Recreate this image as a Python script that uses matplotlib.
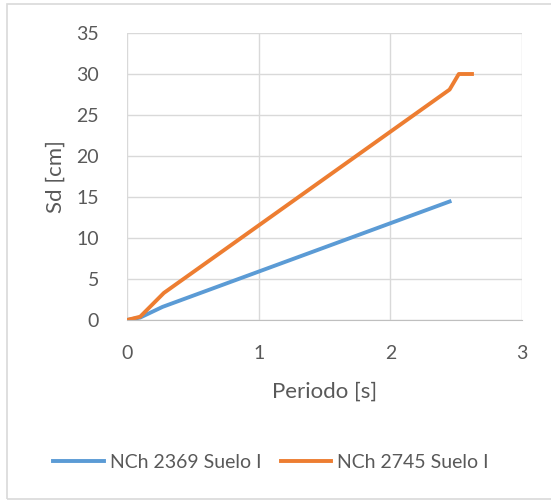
import matplotlib.pyplot as plt
from matplotlib.patches import Rectangle

# data
t_2369 = [0.0, 0.1, 0.27, 2.45]
sd_2369 = [0.0, 0.3, 1.6, 14.45]
t_2745 = [0.0, 0.1, 0.28, 2.45, 2.52, 2.62]
sd_2745 = [0.0, 0.4, 3.3, 28.1, 30.0, 30.0]

x_ticks = [0, 1, 2, 3]
y_ticks = [0, 5, 10, 15, 20, 25, 30, 35]

blue = "#5B9BD5"
orange = "#ED7D31"
text_c = "#595959"
grid_c = "#D9D9D9"

plt.rcParams["font.family"] = ["Lato", "DejaVu Sans"]

fig = plt.figure(figsize=(5.51, 5.0), dpi=100)
fig.patches.append(Rectangle((7 / 551, 0.002), 1.2, 1 - 4 / 500 - 0.002, transform=fig.transFigure,
                             fill=False, edgecolor=grid_c, linewidth=1.2))

ax = fig.add_axes([127 / 551, 1 - 320 / 500, (522 - 127) / 551, (320 - 33) / 500])
ax.plot(t_2369, sd_2369, color=blue, lw=2.8, label="NCh 2369 Suelo I", solid_joinstyle="round")
ax.plot(t_2745, sd_2745, color=orange, lw=2.8, label="NCh 2745 Suelo I", solid_joinstyle="round")

ax.set_xlim(0, 3)
ax.set_ylim(0, 35)
ax.set_xticks(x_ticks)
ax.set_yticks(y_ticks)
ax.grid(True, color=grid_c, lw=1.0)
ax.set_axisbelow(True)
for side in ["top", "right", "left"]:
    ax.spines[side].set_visible(False)
ax.spines["bottom"].set_color("#BFBFBF")
ax.tick_params(length=0, labelsize=14, colors=text_c)
ax.tick_params(axis="y", pad=20)
ax.tick_params(axis="x", pad=18)

ax.set_xlabel("Periodo [s]", fontsize=16, color=text_c, labelpad=14)
ax.set_ylabel("Sd [cm]", fontsize=16, color=text_c, labelpad=8)

fig.legend(loc="center", bbox_to_anchor=(0.492, 1 - 462 / 500), ncol=2, frameon=False,
           fontsize=14, labelcolor=text_c, handlelength=2.6, columnspacing=1.0, handletextpad=0.3)

fig.savefig("out.png", dpi=100)
